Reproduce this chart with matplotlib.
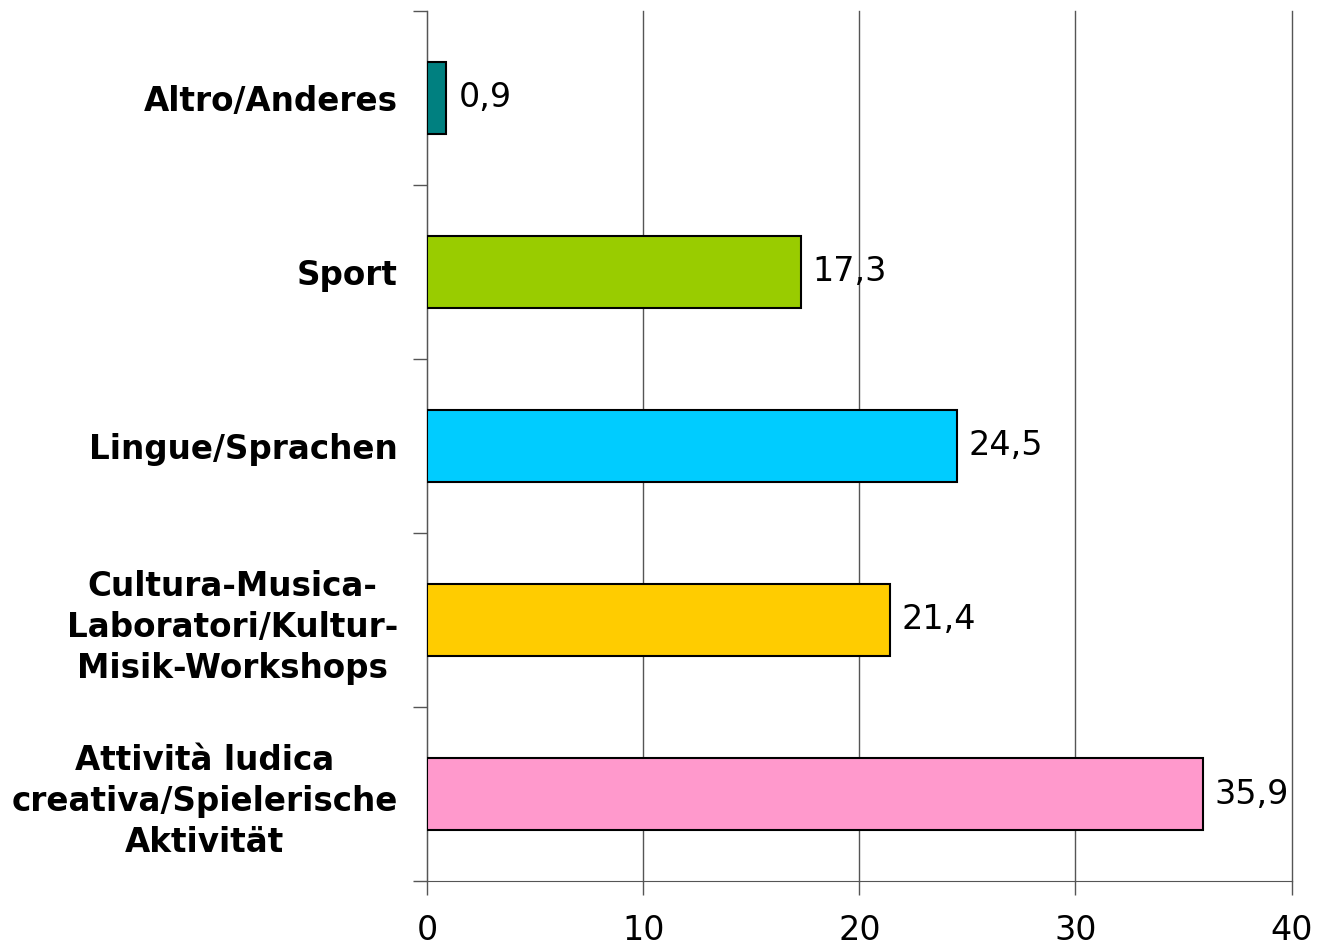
import matplotlib.pyplot as plt
import numpy as np

# Data (bottom to top)
categories = [
    'Attività ludica\ncreativa/Spielerische\nAktivität',
    'Cultura-Musica-\nLaboratori/Kultur-\nMisik-Workshops',
    'Lingue/Sprachen',
    'Sport',
    'Altro/Anderes',
]
values = [35.9, 21.4, 24.5, 17.3, 0.9]
colors = ['#FF99CC', '#FFCC00', '#00CCFF', '#99CC00', '#008080']
x_ticks = [0, 10, 20, 30, 40]

fig = plt.figure(figsize=(13.18, 9.46), dpi=100)
ax = fig.add_axes([0.324, 0.0687, 0.656, 0.9197])

y = np.arange(len(categories))
ax.barh(y, values, height=0.41, color=colors, edgecolor='black', linewidth=1.5, zorder=3)

for yi, v in zip(y, values):
    ax.text(v + 0.55, yi, f'{v:.1f}'.replace('.', ','), va='center', ha='left',
            fontsize=24, zorder=4)

ax.set_xlim(0, 40)
ax.set_ylim(-0.5, len(categories) - 0.5)
ax.set_xticks(x_ticks)
ax.set_xticklabels([str(t) for t in x_ticks], fontsize=24)

# category labels at band centres, ticks at band boundaries
ax.set_yticks(y)
ax.set_yticklabels(categories, fontsize=23.5, fontweight='bold')
for lbl in ax.get_yticklabels():
    lbl.set_multialignment('center')
    lbl.set_linespacing(1.3)
ax.tick_params(axis='y', which='major', length=0, pad=21)
ax.set_yticks(np.arange(-0.5, len(categories), 1.0), minor=True)
ax.tick_params(axis='y', which='minor', length=10, width=1, color='#555555')
ax.tick_params(axis='x', length=10, width=1, color='#555555', pad=14)

ax.grid(axis='x', color='#555555', linewidth=1, zorder=0)
for line in ax.get_xgridlines():
    line.set_clip_on(False)
for s in ['top', 'right']:
    ax.spines[s].set_visible(False)
ax.spines['left'].set_color('#555555')
ax.spines['bottom'].set_color('#555555')

plt.savefig('out.png', dpi=100)
